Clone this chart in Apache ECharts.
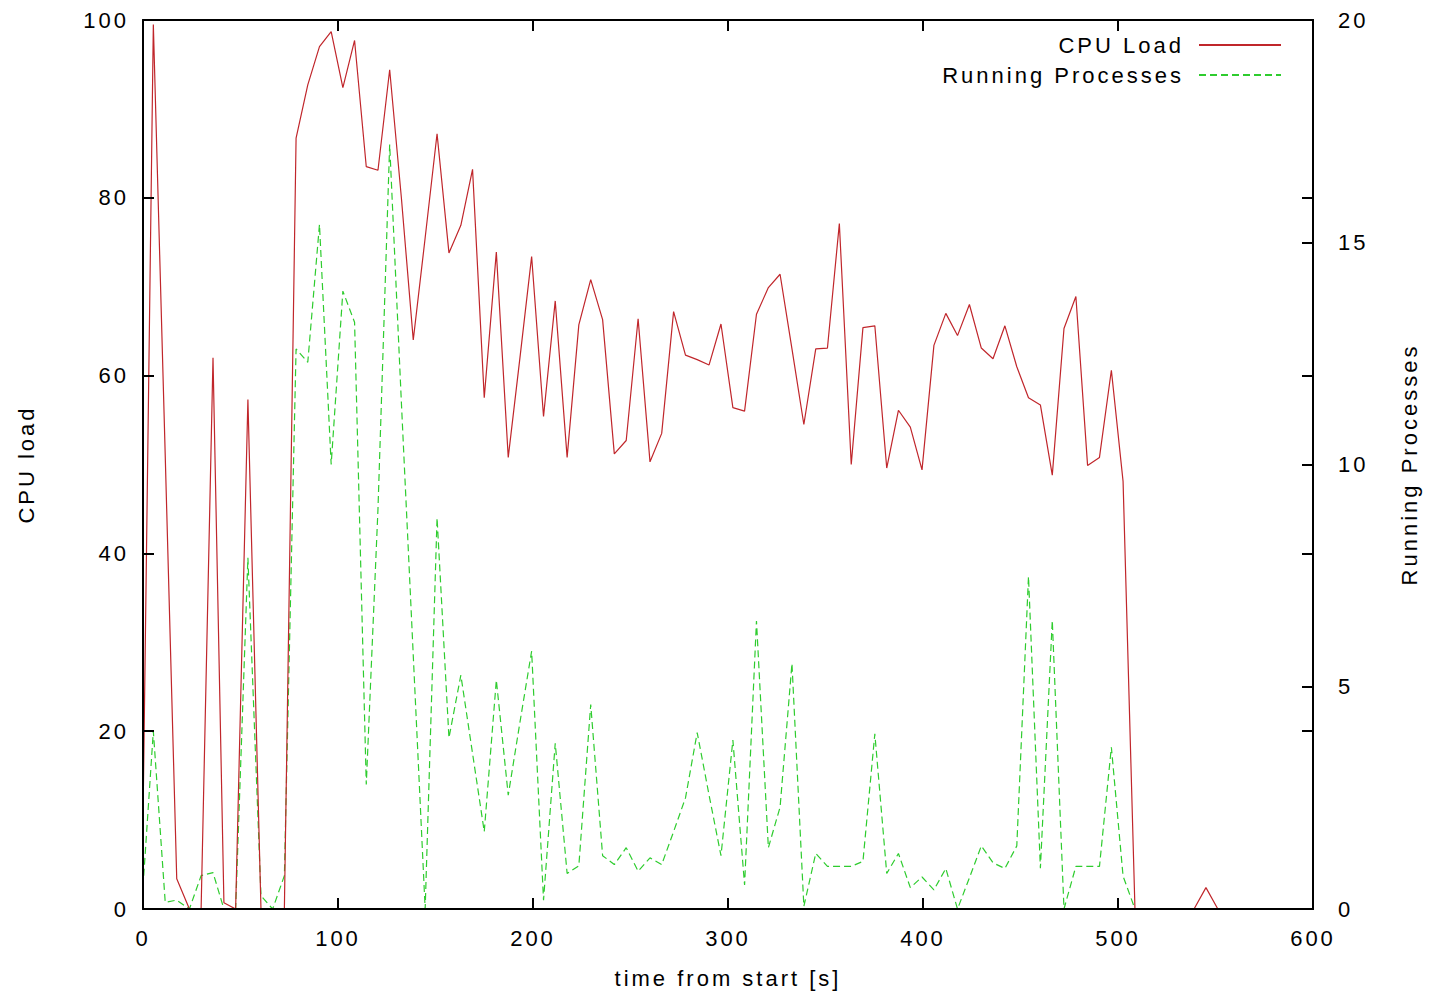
<!DOCTYPE html>
<html>
<head>
<meta charset="utf-8">
<script src="https://cdn.jsdelivr.net/npm/echarts@6/dist/echarts.min.js"></script>
<style>
  html, body { margin: 0; padding: 0; background: #fff; }
  #chart { width: 1431px; height: 994px; }
  #chart text { letter-spacing: 3px; }
</style>
</head>
<body>
<div id="chart"></div>
<script>
// sample times [s]
const timeS = [
  0, 5.3, 11.4, 17.3, 23.8, 29.8, 35.9, 41.5, 47.5, 53.8,
  60.5, 66.5, 72.5, 78.5, 84.5, 90.5, 96.5, 102.5, 108.5, 114.5,
  120.5, 126.5, 132.5, 138.6, 144.7, 150.8, 156.9, 163, 169, 175,
  181.2, 187.3, 193.3, 199.3, 205.4, 211.4, 217.5, 223.5, 229.6, 235.7,
  241.7, 247.8, 253.9, 260, 266, 272.1, 278.2, 284.2, 290.3, 296.4,
  302.5, 308.5, 314.6, 320.7, 326.7, 332.8, 338.9, 345, 351, 357.1,
  363.2, 369.2, 375.3, 381.4, 387.4, 393.5, 399.5, 405.6, 411.7, 417.7,
  423.8, 429.9, 435.9, 442, 448.1, 454.1, 460.2, 466.3, 472.3, 478.4,
  484.4, 490.5, 496.6, 502.6, 508.7, 514.8, 520.8, 526.9, 533, 539,
  545.1, 551.2
];
// CPU load [%]
const cpuLoad = [
  10, 99.5, 51, 3.4, 0, 0, 62, 0.7, 0, 57.3,
  0, 0, 0, 86.7, 92.7, 97, 98.7, 92.4, 97.7, 83.5,
  83.1, 94.4, 80, 64, 75.5, 87.2, 73.8, 76.9, 83.2, 57.5,
  73.9, 50.8, 62, 73.4, 55.4, 68.4, 50.8, 65.7, 70.8, 66.3,
  51.2, 52.7, 66.4, 50.3, 53.5, 67.2, 62.3, 61.8, 61.2, 65.8,
  56.4, 56, 66.9, 69.9, 71.4, 63, 54.5, 63, 63.1, 77.1,
  50, 65.4, 65.6, 49.6, 56.1, 54.2, 49.4, 63.4, 67, 64.5,
  68, 63.1, 61.9, 65.6, 61, 57.5, 56.7, 48.8, 65.3, 68.9,
  49.9, 50.8, 60.6, 48.1, 0, 0, 0, 0, 0, 0,
  2.4, 0
];
// running processes
const runningProcs = [
  0.5, 4.0, 0.15, 0.2, 0, 0.75, 0.82, 0, 0, 7.9,
  0.3, 0, 0.75, 12.6, 12.3, 15.4, 10, 13.9, 13.2, 2.8,
  9.0, 17.2, 11.4, 5.7, 0, 8.8, 3.85, 5.26, 3.5, 1.74,
  5.15, 2.56, 4.2, 5.8, 0.2, 3.73, 0.8, 0.97, 4.6, 1.2,
  1.0, 1.38, 0.85, 1.15, 1.0, 1.74, 2.5, 3.97, 2.56, 1.2,
  3.8, 0.54, 6.48, 1.38, 2.29, 5.52, 0.06, 1.25, 0.96, 0.96,
  0.96, 1.07, 3.94, 0.8, 1.25, 0.48, 0.72, 0.43, 0.91, 0,
  0.7, 1.42, 1.04, 0.91, 1.42, 7.48, 0.92, 6.49, 0, 0.96,
  0.96, 0.96, 3.64, 0.74, 0, 0, 0, 0, 0, 0,
  0, 0
];
const xTicks = [0, 100, 200, 300, 400, 500, 600];
const cpuTicks = [0, 20, 40, 60, 80, 100];
const procTicks = [0, 5, 10, 15, 20];

const FONT = 'Liberation Sans';
const FS = 22;

const cpuData = timeS.map((t, i) => [t, cpuLoad[i]]);
const procData = timeS.map((t, i) => [t, runningProcs[i]]);

const chart = echarts.init(document.getElementById('chart'), null, { renderer: 'svg' });

const baseAxisLine = { show: true, onZero: false, lineStyle: { color: '#000', width: 2 } };
const tickIn = { show: true, inside: true, length: 11, lineStyle: { color: '#000', width: 2 } };
const labelStyle = { color: '#000', fontFamily: FONT, fontSize: FS };

chart.setOption({
  animation: false,
  backgroundColor: '#fff',
  textStyle: { fontFamily: FONT },
  grid: { left: 143, right: 118, top: 20, bottom: 85, containLabel: false },
  legend: {
    data: ['CPU Load', 'Running Processes'],
    orient: 'vertical',
    align: 'right',
    right: 144,
    top: 29,
    itemWidth: 82,
    itemHeight: 12,
    itemGap: 8,
    itemStyle: { color: 'transparent', borderWidth: 0, opacity: 0 },
    textStyle: { color: '#000', fontFamily: FONT, fontSize: FS, padding: [0, 10, 0, 0] }
  },
  xAxis: [
    {
      type: 'value', position: 'bottom', min: xTicks[0], max: xTicks[xTicks.length - 1], interval: 100,
      name: 'time from start [s]', nameLocation: 'middle', nameGap: 58,
      nameTextStyle: labelStyle,
      axisLine: baseAxisLine, axisTick: tickIn, splitLine: { show: false },
      axisLabel: Object.assign({ margin: 18 }, labelStyle), z: 5
    },
    {
      type: 'value', position: 'top', min: xTicks[0], max: xTicks[xTicks.length - 1], interval: 100,
      axisLine: baseAxisLine, axisTick: tickIn, splitLine: { show: false },
      axisLabel: { show: false }, z: 5
    }
  ],
  yAxis: [
    {
      type: 'value', position: 'left', min: cpuTicks[0], max: cpuTicks[cpuTicks.length - 1], interval: 20,
      name: 'CPU load', nameLocation: 'middle', nameGap: 106, nameRotate: 90,
      nameTextStyle: labelStyle,
      axisLine: baseAxisLine, axisTick: tickIn, splitLine: { show: false },
      axisLabel: Object.assign({ margin: 14 }, labelStyle), z: 5
    },
    {
      type: 'value', position: 'right', min: procTicks[0], max: procTicks[procTicks.length - 1], interval: 5,
      name: 'Running Processes', nameLocation: 'middle', nameGap: 85, nameRotate: 90,
      nameTextStyle: labelStyle,
      axisLine: baseAxisLine, axisTick: tickIn, splitLine: { show: false },
      axisLabel: Object.assign({ margin: 25 }, labelStyle), z: 5
    },
    {
      type: 'value', position: 'right', min: cpuTicks[0], max: cpuTicks[cpuTicks.length - 1], interval: 20,
      axisLine: baseAxisLine, axisTick: tickIn, splitLine: { show: false },
      axisLabel: { show: false }, z: 5
    }
  ],
  series: [
    {
      name: 'CPU Load', type: 'line', xAxisIndex: 0, yAxisIndex: 0,
      data: cpuData, symbol: 'none', showSymbol: false,
      lineStyle: { color: '#c0262b', width: 1.2 }, itemStyle: { color: '#c0262b' },
      z: 3
    },
    {
      name: 'Running Processes', type: 'line', xAxisIndex: 0, yAxisIndex: 1,
      data: procData, symbol: 'none', showSymbol: false,
      lineStyle: { color: '#2ecc2e', width: 1.2, type: [7, 4] }, itemStyle: { color: '#2ecc2e' },
      z: 2
    }
  ]
});
</script>
</body>
</html>
